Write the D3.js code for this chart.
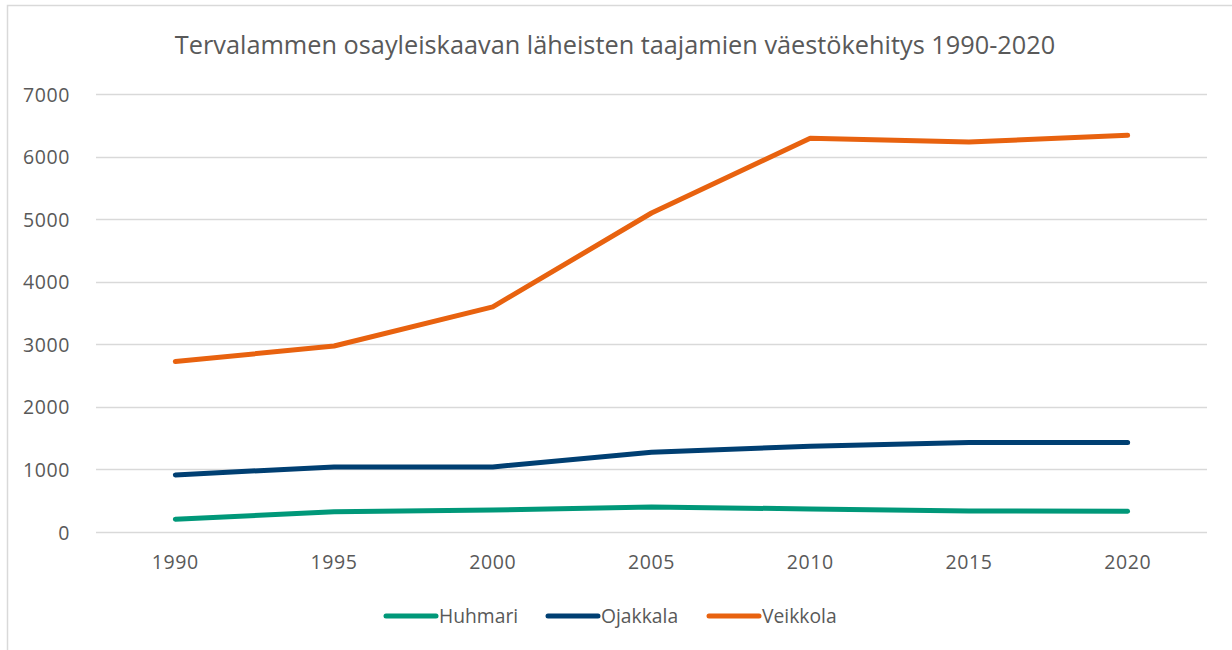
<!DOCTYPE html>
<html>
<head>
<meta charset="utf-8">
<script src="https://cdn.jsdelivr.net/npm/d3@7"></script>
<style>
    body { margin: 0; background: #fff; }
    text { font-family: "Open Sans", sans-serif; fill: #595959; }
</style>
</head>
<body>
<svg id="chart" width="1232" height="650"></svg>
<script>
const years = ["1990", "1995", "2000", "2005", "2010", "2015", "2020"];
const huhmari = [205, 322, 352, 400, 368, 336, 331];
const ojakkala = [912, 1040, 1040, 1275, 1372, 1432, 1432];
const veikkola = [2725, 2972, 3598, 5098, 6293, 6233, 6340];
const yTicks = [0, 1000, 2000, 3000, 4000, 5000, 6000, 7000];

const series = [
    { name: "Huhmari", values: huhmari, color: "#009879" },
    { name: "Ojakkala", values: ojakkala, color: "#003f72" },
    { name: "Veikkola", values: veikkola, color: "#e8620f" }
];

const svg = d3.select("#chart");

const margin = { top: 94, right: 25, bottom: 118, left: 96 };
const width = 1232;
const height = 650;

// outer frame (only left + top visible in the original crop)
svg.append("path")
    .attr("d", `M7.5,${height} V5.5 H${width}`)
    .attr("fill", "none")
    .attr("stroke", "#d9d9d9")
    .attr("stroke-width", 1.5);

svg.append("text")
    .attr("x", 615)
    .attr("y", 54)
    .attr("text-anchor", "middle")
    .attr("font-size", 25.3)
    .text("Tervalammen osayleiskaavan läheisten taajamien väestökehitys 1990-2020");

const x = d3.scaleBand()
    .domain(years)
    .range([margin.left, width - margin.right]);

const y = d3.scaleLinear()
    .domain([0, 7000])
    .range([height - margin.bottom, margin.top]);

// gridlines
svg.append("g")
    .selectAll("line")
    .data(yTicks)
    .join("line")
    .attr("x1", margin.left)
    .attr("x2", width - margin.right)
    .attr("y1", d => Math.round(y(d)) + 0.5)
    .attr("y2", d => Math.round(y(d)) + 0.5)
    .attr("stroke", "#d9d9d9")
    .attr("stroke-width", 1.5);

const yAxis = svg.append("g")
    .attr("transform", `translate(${margin.left - 23},0)`)
    .call(d3.axisLeft(y).tickValues(yTicks).tickSize(0).tickFormat(d3.format("d")));
yAxis.select(".domain").remove();
yAxis.selectAll("text")
    .attr("font-size", 19.5)
    .attr("letter-spacing", 0.6)
    .attr("font-family", null)
    .attr("dy", "0.36em");

const xAxis = svg.append("g")
    .attr("transform", `translate(0,${height - margin.bottom})`)
    .call(d3.axisBottom(x).tickSize(0));
xAxis.select(".domain").remove();
xAxis.selectAll("text")
    .attr("font-size", 19.5)
    .attr("letter-spacing", 0.6)
    .attr("font-family", null)
    .attr("y", 23)
    .attr("dy", "0.71em");

const line = d3.line()
    .x((d, i) => x(years[i]) + x.bandwidth() / 2)
    .y(d => y(d));

svg.append("g")
    .selectAll("path")
    .data(series)
    .join("path")
    .attr("d", d => line(d.values))
    .attr("fill", "none")
    .attr("stroke", d => d.color)
    .attr("stroke-width", 5)
    .attr("stroke-linecap", "round")
    .attr("stroke-linejoin", "round");

// legend
const legendX = [386, 548, 709];
const legend = svg.append("g")
    .selectAll("g")
    .data(series)
    .join("g")
    .attr("transform", (d, i) => `translate(${legendX[i]},616)`);

legend.append("line")
    .attr("x1", 0)
    .attr("x2", 50)
    .attr("stroke", d => d.color)
    .attr("stroke-width", 5)
    .attr("stroke-linecap", "round");

legend.append("text")
    .attr("x", 53)
    .attr("y", 7)
    .attr("font-size", 19.3)
    .text(d => d.name);
</script>
</body>
</html>
